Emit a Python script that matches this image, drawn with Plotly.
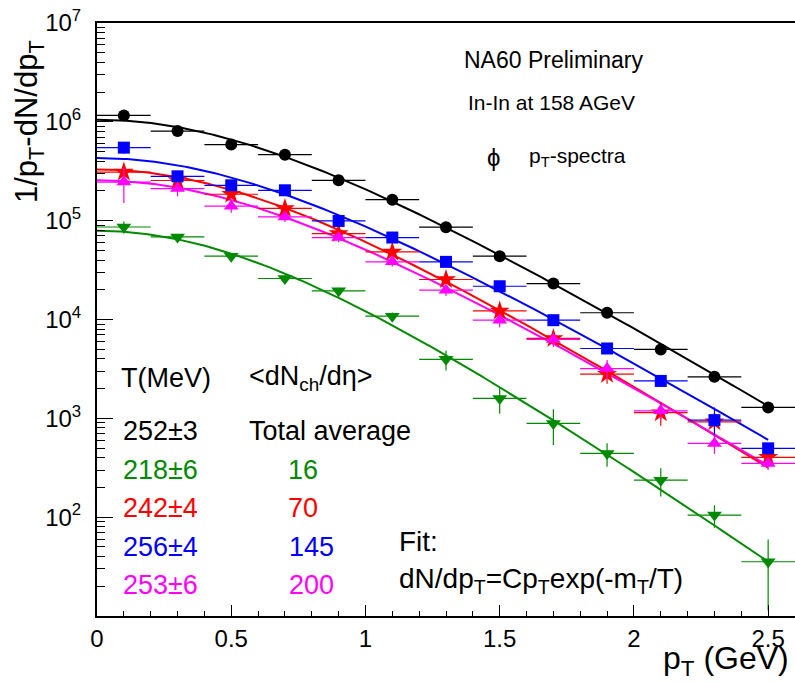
import plotly.graph_objects as go
import numpy as np

# ---- data: phi-meson pT spectra, 1/pT dN/dpT ----
pt = [0.1, 0.3, 0.5, 0.7, 0.9, 1.1, 1.3, 1.5, 1.7, 1.9, 2.1, 2.3, 2.5]
pt_half = [0.1] * len(pt)

total = [1.16e6, 8.07e5, 5.89e5, 4.65e5, 2.56e5, 1.63e5, 8.6e4, 4.37e4, 2.31e4, 1.17e4, 4.98e3, 2.63e3, 1.29e3]
total_err = [3e4, 2e4, 1.5e4, 1.2e4, 7e3, 4e3, 2.2e3, 1.1e3, 600, 300, 150, 100, 60]

dn16 = [8.63e4, 6.84e4, 4.37e4, 2.60e4, 1.95e4, 1.08e4, 3.95e3, 1.59e3, 888, 442, 237, 105, 35.4]
dn16_err = [1.2e4, 5e3, 3e3, 2e3, 1.5e3, 1.0e3, 900, 480, 350, 118, 75, 27, 24]

dn70 = [3.10e5, 2.55e5, 1.85e5, 1.33e5, 7.41e4, 4.83e4, 2.54e4, 1.22e4, 6.43e3, 2.80e3, 1.14e3, 922, 403]
dn70_err = [4e4, 2e4, 1.2e4, 9e3, 6e3, 4e3, 2.5e3, 1.5e3, 900, 560, 300, 150, 60]

dn145 = [5.48e5, 2.81e5, 2.28e5, 2.03e5, 9.93e4, 6.75e4, 3.83e4, 2.17e4, 9.84e3, 5.09e3, 2.39e3, 959, 497]
dn145_err = [7e4, 2e4, 1.2e4, 1e4, 5e3, 3e3, 2e3, 1.2e3, 600, 300, 120, 330, 60]

dn200 = [2.46e5, 2.11e5, 1.40e5, 1.09e5, 6.75e4, 3.83e4, 1.98e4, 9.84e3, 6.28e3, 3.19e3, 1.19e3, 557, 350]
dn200_err = [9.5e4, 3.5e4, 2e4, 1.2e4, 7e3, 4e3, 2.5e3, 1.5e3, 1e3, 700, 210, 120, 50]

# fit parameters: inverse slope T (MeV) and normalisation C
T_total, C_total = 252, 1.05e6
T_16, C_16 = 218, 7.9e4
T_70, C_70 = 242, 3.3e5
T_145, C_145 = 256, 4.3e5
T_200, C_200 = 253, 2.56e5

M_PHI = 1.019  # GeV
FIT_MAX = 2.5

GREEN = "#008a00"

series = [
    # name, values, errors, T, C, color, symbol, size
    ("16", dn16, dn16_err, T_16, C_16, GREEN, "triangle-down", 13),
    ("70", dn70, dn70_err, T_70, C_70, "#ff0000", "star", 15),
    ("145", dn145, dn145_err, T_145, C_145, "#0000ff", "square", 12),
    ("200", dn200, dn200_err, T_200, C_200, "#ff00ff", "triangle-up", 13),
    ("Total average", total, total_err, T_total, C_total, "#000000", "circle", 12),
]

fig = go.Figure()

pt_fit = np.linspace(0.0, FIT_MAX, 200)
mt_fit = np.sqrt(pt_fit ** 2 + M_PHI ** 2)

for name, vals, errs, T, C, col, sym, size in series:
    fit = C * np.exp(-(mt_fit - M_PHI) / (T / 1000.0))
    fig.add_trace(go.Scatter(x=pt_fit, y=fit, mode="lines",
                             line=dict(color=col, width=2), showlegend=False,
                             hoverinfo="skip"))

for name, vals, errs, T, C, col, sym, size in series:
    fig.add_trace(go.Scatter(
        x=pt, y=vals, mode="markers", name=name, showlegend=False,
        marker=dict(symbol=sym, size=size, color=col, line=dict(width=0)),
        error_x=dict(type="data", array=pt_half, visible=True, width=0,
                     thickness=1.2, color=col),
        error_y=dict(type="data", array=errs, visible=True, width=0,
                     thickness=1.2, color=col),
    ))

# ---- layout geometry (pixels) ----
W, H = 795, 682
L, R, TOP, BOT = 97, 0, 23, 66
PW, PH = W - L - R, H - TOP - BOT


def px(x):
    return (x - L) / PW


def py(y):
    return (H - BOT - y) / PH


FONT = "Liberation Sans, Arial, sans-serif"
annotations = []


def label(text, x, y, size, color="#000000", xanchor="left", angle=0):
    annotations.append(dict(text=text, x=px(x), y=py(y), xref="paper", yref="paper",
                            xanchor=xanchor, yanchor="middle", showarrow=False,
                            textangle=angle,
                            font=dict(family=FONT, size=size, color=color)))


# header
label("NA60 Preliminary", 462, 60, 23)
label("In-In at 158 AGeV", 466, 102, 21)
label("ϕ", 485, 157, 24)
label("p<sub>T</sub>-spectra", 527, 157, 21)

# temperature / multiplicity table
TS = 27
label("T(MeV)", 119, 378, TS)
label("&lt;dN<sub>ch</sub>/dη&gt;", 247, 378, TS)
rows_T = ["252±3", "218±6", "242±4", "256±4", "253±6"]
rows_N = ["Total average", "16", "70", "145", "200"]
rows_c = ["#000000", GREEN, "#ff0000", "#0000ff", "#ff00ff"]
rows_x = [247, 286, 286, 287, 287]
for i, (tt, nn, cc, xx) in enumerate(zip(rows_T, rows_N, rows_c, rows_x)):
    yy = 431 + 38.5 * i
    label(tt, 121, yy, TS, cc)
    label(nn, xx, yy, TS, cc)

label("Fit:", 397, 541, 28)
label("dN/dp<sub>T</sub>=Cp<sub>T</sub>exp(-m<sub>T</sub>/T)", 397, 580, 28)

# axis titles
label("1/p<sub>T</sub>-dN/dp<sub>T</sub>", 29, 122, 31, angle=-90, xanchor="center")
label("p<sub>T</sub> (GeV)", 791, 660, 32, xanchor="right")

y_major = [1e1, 1e2, 1e3, 1e4, 1e5, 1e6, 1e7]
y_major_text = ["", "10<sup>2</sup>", "10<sup>3</sup>", "10<sup>4</sup>",
                "10<sup>5</sup>", "10<sup>6</sup>", "10<sup>7</sup>"]
y_minor = [m * 10 ** e for e in range(1, 7) for m in range(2, 10)]

fig.update_layout(
    width=W, height=H,
    margin=dict(l=L, r=R, t=TOP, b=BOT, pad=0),
    paper_bgcolor="white", plot_bgcolor="white",
    font=dict(family=FONT, size=23, color="#000000"),
    annotations=annotations,
    xaxis=dict(range=[0, 2.6], showgrid=False, zeroline=False,
               showline=True, linecolor="#000000", linewidth=2, mirror=True,
               ticks="inside", ticklen=11, tickwidth=1, tickcolor="#000000",
               tickmode="array", tickvals=[0, 0.5, 1, 1.5, 2, 2.5],
               ticktext=["0", "0.5", "1", "1.5", "2", "2.5"],
               tickfont=dict(size=24), ticklabelstandoff=0,
               minor=dict(ticks="inside", ticklen=5, tickwidth=1,
                          tickcolor="#000000", dtick=0.1, showgrid=False)),
    yaxis=dict(type="log", range=[1, 7], showgrid=False, zeroline=False,
               showline=True, linecolor="#000000", linewidth=2, mirror=False,
               ticks="inside", ticklen=16, tickwidth=1, tickcolor="#000000",
               tickmode="array", tickvals=y_major, ticktext=y_major_text,
               tickfont=dict(size=24), ticklabelstandoff=9,
               minor=dict(ticks="inside", ticklen=8, tickwidth=1,
                          tickcolor="#000000", tickvals=y_minor, showgrid=False)),
)

fig.write_html("out.html")
